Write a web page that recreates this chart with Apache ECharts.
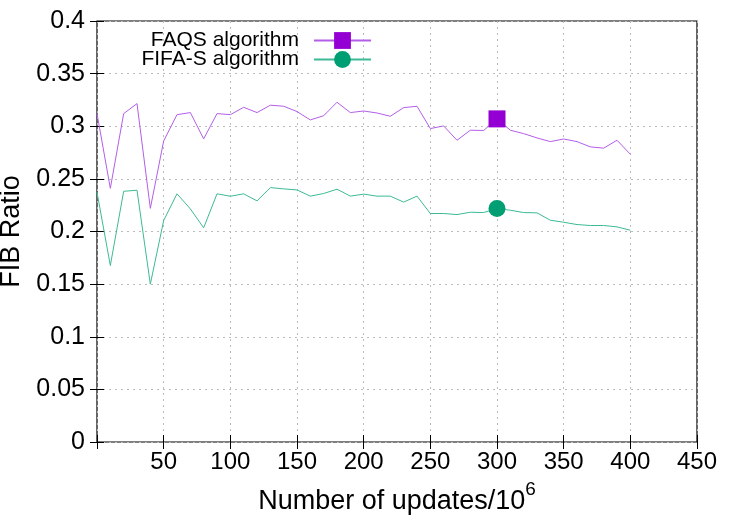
<!DOCTYPE html>
<html>
<head>
<meta charset="utf-8">
<script src="https://cdn.jsdelivr.net/npm/echarts@6/dist/echarts.min.js"></script>
<style>
  html, body { margin: 0; padding: 0; background: #fff; }
  #chart { width: 750px; height: 525px; }
</style>
</head>
<body>
<div id="chart"></div>
<script>
// updates (x10^6)
var updates = [0, 10, 20, 30, 40, 50, 60, 70, 80, 90, 100, 110, 120, 130, 140, 150, 160, 170, 180, 190,
  200, 210, 220, 230, 240, 250, 260, 270, 280, 290, 300, 310, 320, 330, 340, 350, 360, 370, 380, 390, 400];
var faqs = [0.312, 0.241, 0.312, 0.3215, 0.222, 0.286, 0.311, 0.313, 0.288, 0.312, 0.311, 0.318, 0.313, 0.320, 0.319, 0.314, 0.306, 0.310, 0.3228, 0.313,
  0.3145, 0.3126, 0.3095, 0.3177, 0.319, 0.2978, 0.3003, 0.2867, 0.2962, 0.296, 0.307, 0.2962, 0.293, 0.2889, 0.2854, 0.2879, 0.2854, 0.2804, 0.2792, 0.2867, 0.2734];
var fifa = [0.2373, 0.1677, 0.2382, 0.2392, 0.150, 0.2104, 0.2358, 0.2215, 0.2035, 0.2358, 0.2335, 0.2358, 0.2291, 0.2417, 0.2405, 0.2395, 0.2336, 0.2361, 0.2402, 0.2336,
  0.2355, 0.2336, 0.2336, 0.2279, 0.2336, 0.2171, 0.2171, 0.2161, 0.2183, 0.218, 0.2218, 0.2202, 0.218, 0.2177, 0.2107, 0.2088, 0.2066, 0.2057, 0.2057, 0.2044, 0.2012];
var markAt = 300;

function pairs(ys) {
  return updates.map(function (x, i) { return [x, ys[i]]; });
}

var myChart = echarts.init(document.getElementById('chart'));
var font = 'Liberation Sans, Arial, sans-serif';
var grid = { color: '#bbb', type: [2, 4] };

var option = {
  animation: false,
  textStyle: { fontFamily: font },
  grid: { left: 97, right: 53, top: 21, bottom: 83, show: true, borderColor: '#000', borderWidth: 1.2,
    containLabel: false, outerBoundsMode: 'none' },
  legend: {
    orient: 'vertical',
    right: 373,
    top: 25,
    align: 'right',
    itemWidth: 57,
    itemHeight: 21,
    itemGap: -2,
    textStyle: { fontSize: 21, color: '#000', padding: [0, 10, 0, 0] },
    data: ['FAQS algorithm', 'FIFA-S algorithm']
  },
  xAxis: [{
    type: 'value', min: 0, max: 450, interval: 50,
    name: 'Number of updates/10{sup|6}',
    nameLocation: 'middle', nameGap: 38,
    nameTextStyle: { fontSize: 27, lineHeight: 44, color: '#000',
      rich: { sup: { fontSize: 19, lineHeight: 19, verticalAlign: 'top', padding: [0, 0, 6, 0] } } },
    axisLine: { show: false },
    axisTick: { inside: true, length: 7, lineStyle: { color: '#000' } },
    axisLabel: { fontSize: 24, color: '#000', margin: 8, formatter: function (v) { return v === 0 ? '' : v; } },
    splitLine: { show: true, lineStyle: grid }
  }, {
    type: 'value', min: 0, max: 450, interval: 50, position: 'top',
    axisLine: { show: false },
    axisTick: { inside: true, length: 7, lineStyle: { color: '#000' } },
    axisLabel: { show: false },
    splitLine: { show: false }
  }],
  yAxis: [{
    type: 'value', min: 0, max: 0.4, interval: 0.05,
    name: 'FIB Ratio',
    nameLocation: 'middle', nameGap: 62,
    nameTextStyle: { fontSize: 27, color: '#000' },
    axisLine: { show: false },
    axisTick: { inside: true, length: 7, lineStyle: { color: '#000' } },
    axisLabel: { fontSize: 25, color: '#000', margin: 12 },
    splitLine: { show: true, lineStyle: grid }
  }, {
    type: 'value', min: 0, max: 0.4, interval: 0.05, position: 'right',
    axisLine: { show: false },
    axisTick: { inside: true, length: 7, lineStyle: { color: '#000' } },
    axisLabel: { show: false },
    splitLine: { show: false }
  }],
  series: [{
    name: 'FAQS algorithm',
    type: 'line',
    data: pairs(faqs),
    color: '#9400d3',
    lineStyle: { width: 1, color: '#b35ee8' },
    symbol: 'rect',
    showAllSymbol: true,
    symbolSize: function (v) { return v[0] === markAt ? 17 : 0; },
    itemStyle: { color: '#9400d3' }
  }, {
    name: 'FIFA-S algorithm',
    type: 'line',
    data: pairs(fifa),
    color: '#009e73',
    lineStyle: { width: 1, color: '#3dba95' },
    symbol: 'circle',
    showAllSymbol: true,
    symbolSize: function (v) { return v[0] === markAt ? 17 : 0; },
    itemStyle: { color: '#009e73' }
  }]
};

myChart.setOption(option);
window.addEventListener('resize', function () {
  myChart.resize();
});
</script>
</body>
</html>
